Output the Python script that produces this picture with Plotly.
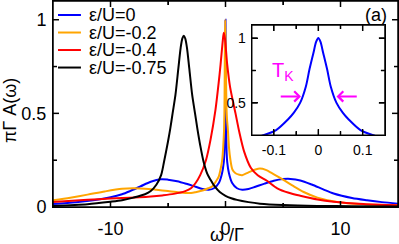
import plotly.graph_objects as go

# ---------------- data ----------------
labels = ["ε/U=0", "ε/U=-0.2", "ε/U=-0.4", "ε/U=-0.75"]
colors = ["#0000ff", "#ffa500", "#ff0000", "#000000"]

blue_x = [-15, -13, -11.5, -10, -9, -8.3, -7.4, -6.5, -5.6, -5, -4.2, -3.4, -2.6, -2,
          -1.45, -1, -0.58, -0.3, -0.15, -0.1, -0.067, -0.043, -0.028, -0.02, -0.011, 0,
          0.011, 0.02, 0.028, 0.043, 0.067, 0.1, 0.15, 0.3, 0.58, 1, 1.45, 2, 2.6, 3.4,
          4.2, 5, 5.65, 6.5, 7.5, 8.5, 9.4, 11, 12.3, 13.6, 15]
blue_y = [0.016, 0.025, 0.036, 0.052, 0.068, 0.085, 0.11, 0.135, 0.148, 0.146, 0.138,
          0.124, 0.108, 0.096, 0.092, 0.1, 0.128, 0.18, 0.24, 0.29, 0.38, 0.5, 0.627,
          0.757, 0.885, 1.0, 0.885, 0.757, 0.627, 0.5, 0.38, 0.29, 0.24, 0.18, 0.128,
          0.1, 0.092, 0.096, 0.108, 0.125, 0.14, 0.149, 0.15, 0.142, 0.12, 0.094,
          0.072, 0.048, 0.036, 0.026, 0.018]

orange_x = [-15, -13.5, -12, -10.5, -9, -8, -7, -6, -5, -4, -3, -2.6, -2, -1.5, -1.16,
            -0.8, -0.58, -0.4, -0.29, -0.2, -0.12, -0.08, -0.05, -0.02, 0.02, 0.08, 0.13,
            0.2, 0.3, 0.43, 0.6, 0.87, 1.2, 1.45, 2, 2.6, 3, 3.5, 4, 5, 6, 6.8, 8, 9.7,
            12, 15]
orange_y = [0.036, 0.05, 0.066, 0.083, 0.097, 0.1, 0.098, 0.092, 0.085, 0.078, 0.075,
            0.079, 0.088, 0.1, 0.11, 0.14, 0.164, 0.21, 0.25, 0.32, 0.42, 0.6, 0.9,
            1.0, 0.8, 0.55, 0.47, 0.42, 0.32, 0.25, 0.2, 0.18, 0.172, 0.17, 0.185, 0.2,
            0.205, 0.198, 0.182, 0.146, 0.108, 0.08, 0.05, 0.027, 0.015, 0.009]

red_x = [-15, -13, -11, -9, -7.5, -6.5, -5.5, -4.5, -3.5, -3, -2.6, -2.2, -1.7, -1.3,
         -0.87, -0.6, -0.43, -0.25, -0.15, -0.05, 0.15, 0.4, 0.87, 1.2, 1.6, 2.2, 2.8,
         3.6, 4.5, 5.5, 6.5, 8, 9.4, 12, 15]
red_y = [0.027, 0.035, 0.042, 0.048, 0.052, 0.056, 0.062, 0.07, 0.085, 0.1, 0.128, 0.17,
         0.25, 0.36, 0.52, 0.66, 0.76, 0.88, 0.93, 0.9, 0.76, 0.64, 0.5, 0.4, 0.3, 0.21,
         0.17, 0.14, 0.1, 0.076, 0.06, 0.04, 0.028, 0.016, 0.009]

black_x = [-15, -12, -10, -9, -8, -7, -6.5, -6, -5.6, -5.35, -5.0, -4.8, -4.6, -4.35,
           -4.1, -3.9, -3.75, -3.62, -3.5, -3.35, -3.15, -2.9, -2.65, -2.45, -2.2, -1.9,
           -1.6, -1.3, -1.0, -0.5, 0, 0.5, 1, 2, 3, 5, 8, 11, 15]
black_y = [0.006, 0.015, 0.028, 0.036, 0.05, 0.068, 0.085, 0.12, 0.17, 0.24, 0.35, 0.42,
           0.5, 0.6, 0.74, 0.85, 0.9, 0.915, 0.9, 0.85, 0.74, 0.6, 0.5, 0.42, 0.33, 0.24,
           0.18, 0.145, 0.115, 0.08, 0.06, 0.047, 0.038, 0.026, 0.018, 0.011, 0.006,
           0.004, 0.003]

inset_x = [-0.15, -0.128, -0.095, -0.069, -0.055, -0.041, -0.028, -0.02, -0.011, -0.005, 0,
           0.005, 0.011, 0.02, 0.028, 0.041, 0.055, 0.069, 0.095, 0.128, 0.15]
inset_y = [0.22, 0.245, 0.29, 0.37, 0.425, 0.5, 0.627, 0.757, 0.885, 0.97, 1.0,
           0.97, 0.885, 0.757, 0.627, 0.5, 0.425, 0.37, 0.29, 0.245, 0.22]

main_xticks = [-10, 0, 10]
main_xticklabels = ["-10", "0", "10"]
main_xminor = [-5, 5]
main_yticks = [0, 0.5, 1]
main_yticklabels = ["0", "0.5", "1"]
main_yminor = [0.25, 0.75]
inset_xticks = [-0.1, 0, 0.1]
inset_xticklabels = ["-0.1", "0", "0.1"]
inset_xminor = [-0.05, 0.05]
inset_yticks = [0.5, 1]
inset_yticklabels = ["0.5", "1"]
inset_yminor = [0.75]

FONT = "Liberation Sans, Arial, sans-serif"
W, H = 399, 244
MARGIN = dict(l=53, r=1, t=1, b=37, pad=0)
MAIN_RX, MAIN_RY = [-15, 15], [0, 1.1]
INSET_RX, INSET_RY = [-0.15, 0.15], [0.25, 1.1]
MAIN_DOM_X, MAIN_DOM_Y = [0, 1], [0, 1]
INSET_DOM_X, INSET_DOM_Y = [0.576, 0.962], [0.348, 0.883]
PW = W - MARGIN["l"] - MARGIN["r"]
PH = H - MARGIN["t"] - MARGIN["b"]

fig = go.Figure()
series = [(blue_x, blue_y), (orange_x, orange_y), (red_x, red_y), (black_x, black_y)]
for (xs, ys), c, name in zip(series, colors, labels):
    fig.add_trace(go.Scatter(x=xs, y=ys, mode="lines", name=name,
                             line=dict(color=c, width=2, shape="spline", smoothing=0.8),
                             showlegend=False, hoverinfo="skip", xaxis="x", yaxis="y"))

fig.add_trace(go.Scatter(x=inset_x, y=inset_y, mode="lines", showlegend=False,
                         hoverinfo="skip",
                         line=dict(color=colors[0], width=2, shape="spline", smoothing=0.8),
                         xaxis="x2", yaxis="y2"))


def frame_trace(xax, yax, rx, ry, dom_x, dom_y, xmajor, xminor, ymajor, yminor,
                major_len=6, minor_len=4):
    """Box + inward ticks on all four sides, drawn on the subplot's own axes."""
    px_x = (rx[1] - rx[0]) / (PW * (dom_x[1] - dom_x[0]))   # data units per pixel
    px_y = (ry[1] - ry[0]) / (PH * (dom_y[1] - dom_y[0]))
    xs = [rx[0], rx[1], rx[1], rx[0], rx[0], None]
    ys = [ry[0], ry[0], ry[1], ry[1], ry[0], None]
    for vals, ln in ((xmajor, major_len), (xminor, minor_len)):
        for v in vals:
            xs += [v, v, None, v, v, None]
            ys += [ry[0], ry[0] + ln * px_y, None, ry[1], ry[1] - ln * px_y, None]
    for vals, ln in ((ymajor, major_len), (yminor, minor_len)):
        for v in vals:
            xs += [rx[0], rx[0] + ln * px_x, None, rx[1], rx[1] - ln * px_x, None]
            ys += [v, v, None, v, v, None]
    return go.Scatter(x=xs, y=ys, mode="lines", xaxis=xax, yaxis=yax, cliponaxis=False,
                      line=dict(color="#000000", width=1.5), showlegend=False,
                      hoverinfo="skip", connectgaps=False)


fig.add_trace(frame_trace("x", "y", MAIN_RX, MAIN_RY, MAIN_DOM_X, MAIN_DOM_Y,
                          main_xticks, main_xminor, main_yticks[1:], main_yminor))
fig.add_trace(frame_trace("x2", "y2", INSET_RX, INSET_RY, INSET_DOM_X, INSET_DOM_Y,
                          inset_xticks, inset_xminor, inset_yticks, inset_yminor))

# the axes' own box and inward ticks as well
axis_common = dict(showline=True, linecolor="#000000", linewidth=1, mirror="ticks",
                   ticks="inside", tickcolor="#000000", tickwidth=1, showgrid=False,
                   zeroline=False)

fig.update_layout(
    width=W, height=H, autosize=False, margin=MARGIN,
    paper_bgcolor="white", plot_bgcolor="white",
    font=dict(family=FONT, color="black", size=18),
    xaxis=dict(range=MAIN_RX, tickvals=main_xticks, ticktext=main_xticklabels, ticklen=6,
               minor=dict(tickvals=main_xminor, ticks="inside", ticklen=4,
                          tickcolor="#000000"),
               ticklabelstandoff=5, tickfont=dict(size=18), domain=MAIN_DOM_X, anchor="y",
               **axis_common),
    yaxis=dict(range=MAIN_RY, tickvals=main_yticks, ticktext=main_yticklabels, ticklen=6,
               minor=dict(tickvals=main_yminor, ticks="inside", ticklen=4,
                          tickcolor="#000000"),
               ticklabelstandoff=2, tickfont=dict(size=18), domain=MAIN_DOM_Y, anchor="x",
               **axis_common),
    xaxis2=dict(range=INSET_RX, tickvals=inset_xticks, ticktext=inset_xticklabels,
                ticklen=6, minor=dict(tickvals=inset_xminor, ticks="inside", ticklen=4,
                                      tickcolor="#000000"),
                ticklabelstandoff=2, anchor="y2", domain=INSET_DOM_X,
                tickfont=dict(size=14), **axis_common),
    yaxis2=dict(range=INSET_RY, tickvals=inset_yticks, ticktext=inset_yticklabels,
                ticklen=6, minor=dict(tickvals=inset_yminor, ticks="inside", ticklen=4,
                                      tickcolor="#000000"),
                ticklabelstandoff=2, anchor="x2", domain=INSET_DOM_Y,
                tickfont=dict(size=14), **axis_common),
)

# legend drawn as key lines + labels
leg_y = [0.932, 0.847, 0.762, 0.677]
for yy, c, name in zip(leg_y, colors, labels):
    fig.add_shape(type="line", xref="paper", yref="paper", x0=0.0145, x1=0.081,
                  y0=yy, y1=yy, line=dict(color=c, width=2))
    fig.add_annotation(xref="paper", yref="paper", x=0.0986, y=yy, text=name,
                       showarrow=False, xanchor="left", yanchor="middle",
                       font=dict(size=18))

# axis titles and panel label
fig.add_annotation(xref="paper", yref="paper", x=0.504, y=-0.138, text="ω /Γ",
                   showarrow=False, xanchor="center", yanchor="middle", font=dict(size=18))
fig.add_annotation(xref="paper", yref="paper", x=-0.125, y=0.47, text="πΓ A(ω)",
                   showarrow=False, textangle=-90, xanchor="center", yanchor="middle",
                   font=dict(size=18))
fig.add_annotation(xref="paper", yref="paper", x=0.936, y=0.932, text="(a)",
                   showarrow=False, xanchor="center", yanchor="middle", font=dict(size=18))

# T_K markers in the inset
magenta = "#ff00ff"
fig.add_annotation(xref="x2", yref="y2", x=-0.08, y=0.74, text="T<sub>K</sub>",
                   showarrow=False, xanchor="center", yanchor="middle",
                   font=dict(size=20, color=magenta))
fig.add_annotation(xref="x2", yref="y2", axref="x2", ayref="y2", x=-0.039, y=0.55,
                   ax=-0.088, ay=0.55, text="", showarrow=True, arrowhead=4,
                   arrowsize=1, arrowwidth=2, arrowcolor=magenta)
fig.add_annotation(xref="x2", yref="y2", axref="x2", ayref="y2", x=0.041, y=0.55,
                   ax=0.09, ay=0.55, text="", showarrow=True, arrowhead=4,
                   arrowsize=1, arrowwidth=2, arrowcolor=magenta)

fig.write_html("out.html", config={"displayModeBar": False},
               post_script="document.body.style.margin='0';")
